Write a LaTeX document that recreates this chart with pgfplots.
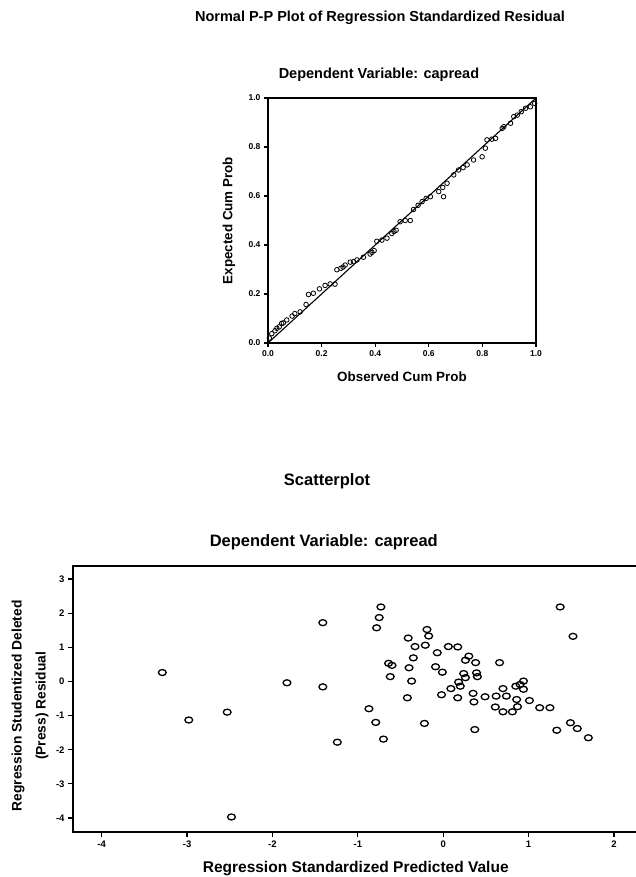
\documentclass[border=0pt]{standalone}
\usepackage{fontspec}
\setmainfont{Liberation Sans}
\usepackage{pgfplots}
\usepackage{pgfplotstable}
\pgfplotsset{compat=1.18}

% P-P plot: observed vs expected cumulative probability
\pgfplotstableread{
x y
0.005 0.020
0.014 0.038
0.026 0.050
0.033 0.060
0.042 0.066
0.051 0.080
0.057 0.082
0.070 0.094
0.090 0.110
0.100 0.120
0.120 0.127
0.142 0.157
0.151 0.198
0.169 0.203
0.192 0.221
0.213 0.235
0.232 0.241
0.250 0.240
0.257 0.299
0.272 0.305
0.280 0.310
0.288 0.318
0.307 0.330
0.319 0.332
0.332 0.339
0.356 0.350
0.381 0.363
0.388 0.370
0.396 0.377
0.406 0.415
0.425 0.420
0.444 0.428
0.462 0.447
0.470 0.455
0.478 0.460
0.493 0.495
0.512 0.500
0.531 0.500
0.543 0.545
0.560 0.562
0.575 0.577
0.590 0.590
0.606 0.597
0.655 0.597
0.637 0.618
0.652 0.635
0.668 0.652
0.693 0.686
0.711 0.706
0.728 0.716
0.743 0.727
0.767 0.747
0.799 0.760
0.811 0.795
0.817 0.829
0.835 0.832
0.849 0.835
0.874 0.876
0.880 0.883
0.905 0.897
0.917 0.924
0.930 0.930
0.945 0.944
0.961 0.958
0.979 0.964
0.995 0.978
}\pptable

% scatter: standardized predicted vs studentized deleted residual
\pgfplotstableread{
x y
-3.29 0.26
-2.98 -1.13
-2.53 -0.90
-2.48 -3.97
-1.83 -0.04
-1.41 1.72
-1.41 -0.16
-0.73 2.18
-0.75 1.87
-0.78 1.57
-1.24 -1.78
-0.87 -0.80
-0.79 -1.20
-0.70 -1.69
-0.64 0.53
-0.60 0.47
-0.62 0.14
-0.42 -0.48
-0.37 0.01
-0.40 0.40
-0.35 0.69
-0.41 1.27
-0.33 1.02
-0.21 1.06
-0.19 1.52
-0.17 1.33
-0.22 -1.23
-0.09 0.43
-0.07 0.84
-0.01 0.27
-0.02 -0.39
0.06 1.02
0.17 1.01
0.09 -0.21
0.17 -0.48
0.18 -0.02
0.20 -0.14
0.24 0.23
0.26 0.11
0.30 0.74
0.26 0.62
0.38 0.55
0.39 0.25
0.40 0.14
0.35 -0.35
0.36 -0.60
0.49 -0.45
0.37 -1.41
0.66 0.55
0.62 -0.43
0.61 -0.75
0.70 -0.21
0.74 -0.43
0.70 -0.89
0.81 -0.89
0.86 -0.53
0.87 -0.74
0.85 -0.14
0.90 -0.09
0.94 0.01
0.94 -0.23
1.01 -0.56
1.13 -0.77
1.25 -0.77
1.33 -1.43
1.37 2.18
1.52 1.32
1.49 -1.21
1.57 -1.38
1.70 -1.65
}\sctable

\begin{document}
\begin{tikzpicture}
\useasboundingbox (0pt,0pt) rectangle (635pt,877pt);

\node[font=\bfseries\fontsize{14.5}{16}\selectfont] at (380pt,859pt)
  {Normal P-P Plot of Regression Standardized Residual};
\node[font=\bfseries\fontsize{16.5}{18}\selectfont] at (327pt,396pt) {Scatterplot};

\pgfplotsset{
  every axis/.append style={
    scale only axis,
    anchor=south west,
    axis line style={line width=1.4pt},
    tick align=outside,
    xtick pos=bottom,
    ytick pos=left,
    major tick length=4pt,
    tick style={line width=1.2pt,black},
    /pgf/number format/assume math mode=true,
  },
}

\begin{axis}[
  at={(268pt,534pt)},
  width=268pt, height=245pt,
  xmin=0, xmax=1, ymin=0, ymax=1,
  xtick={0,0.2,0.4,0.6,0.8,1},
  ytick={0,0.2,0.4,0.6,0.8,1},
  tick label style={font=\bfseries\fontsize{8.5}{9}\selectfont},
  xticklabel style={/pgf/number format/.cd,fixed,fixed zerofill,precision=1},
  yticklabel style={/pgf/number format/.cd,fixed,fixed zerofill,precision=1},
  title={Dependent Variable: capread},
  title style={font=\bfseries\fontsize{14.5}{16}\selectfont,
    at={(axis description cs:0.414,1.069)}, anchor=center},
  xlabel={Observed Cum Prob},
  xlabel style={font=\bfseries\fontsize{13.4}{15}\selectfont,
    at={(axis description cs:0.5,-0.139)}, anchor=center},
  ylabel={Expected Cum Prob},
  ylabel style={font=\bfseries\fontsize{13.4}{15}\selectfont,
    at={(axis description cs:-0.146,0.5)}, anchor=center},
]
\addplot[black, line width=1.1pt] coordinates {(0,0) (1,1)};
\addplot[only marks, mark=o, mark size=2.3pt, mark options={line width=0.8pt,black}]
  table {\pptable};
\end{axis}

\begin{axis}[
  at={(73pt,45pt)},
  width=570pt, height=266pt,
  xmin=-4.336, xmax=2.34, ymin=-4.41, ymax=3.38,
  xtick={-4,-3,-2,-1,0,1,2},
  ytick={-4,-3,-2,-1,0,1,2,3},
  major tick length=5pt,
  tick label style={font=\bfseries\fontsize{9.5}{10}\selectfont},
  title={Dependent Variable: capread},
  title style={font=\bfseries\fontsize{16.5}{18}\selectfont,
    at={(axis description cs:0.44,1.068)}, anchor=center},
  xlabel={Regression Standardized Predicted Value},
  xlabel style={font=\bfseries\fontsize{15.5}{17}\selectfont,
    at={(axis description cs:0.496,-0.139)}, anchor=center},
  ylabel={Regression Studentized Deleted\\(Press) Residual},
  ylabel style={font=\bfseries\fontsize{13.8}{24}\selectfont, align=center,
    at={(axis description cs:-0.0754,0.474)}, anchor=center},
]
\addplot[only marks, mark=o, mark size=3pt,
  mark options={line width=1.3pt,black,xscale=1.3}]
  table {\sctable};
\end{axis}
\end{tikzpicture}
\end{document}
